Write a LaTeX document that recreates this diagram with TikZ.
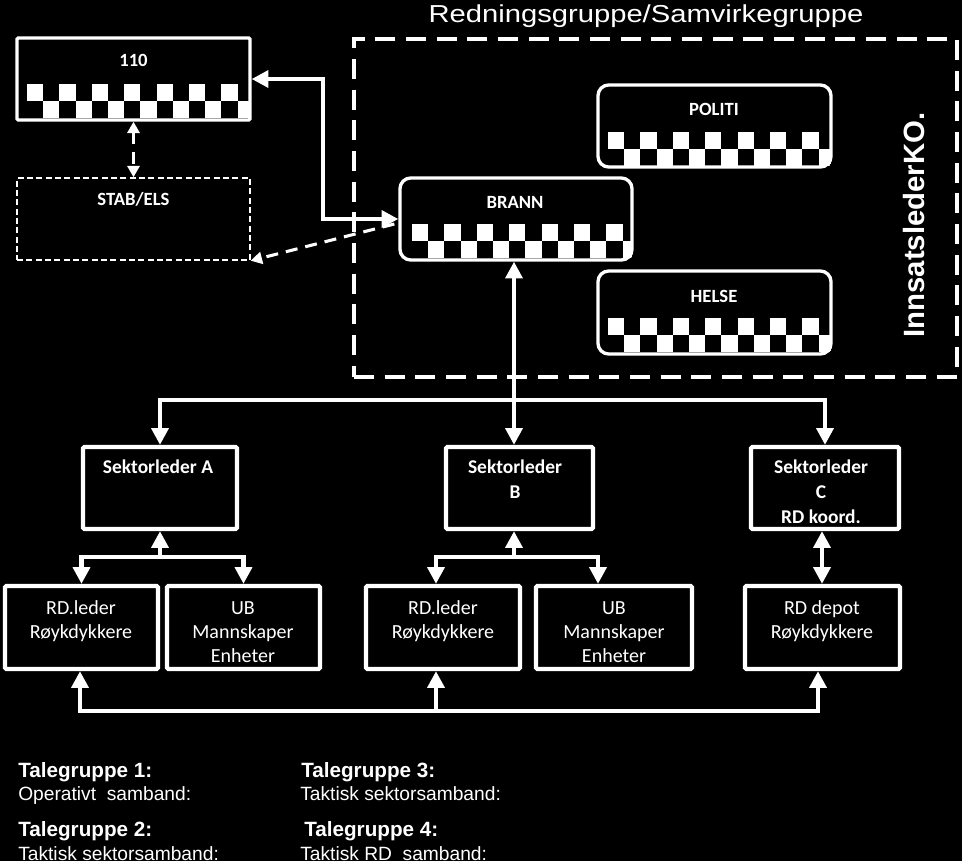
\documentclass[tikz,border=0pt]{standalone}
\usepackage{fontspec}
\usepackage{graphicx}
\setmainfont{Liberation Sans}
\newfontfamily\calib{Carlito}
\usetikzlibrary{arrows.meta,fit,calc}
\newcommand\mlines[1]{\begin{tabular}[t]{@{}c@{}}#1\end{tabular}}
\newcommand\chk[3]{%
  \foreach \k in {0,...,6}{%
    \fill[white] ({#1+2*\k*16.2},{#2}) rectangle ({#1+(2*\k+1)*16.2},{#2+17});
    \fill[white] ({#1+(2*\k+1)*16.2},{#2+17}) rectangle ({min(#1+(2*\k+2)*16.2,#3)},{#2+34});
  }}
\begin{document}
\begin{tikzpicture}[x=0.75pt,y=-0.75pt,
  sqbox/.style={draw=white, line width=2.5pt, inner sep=0pt, rounded corners=1pt},
  rbox/.style={draw=white, line width=2.5pt, inner sep=0pt, rounded corners=8pt},
  lbox/.style={draw=white, line width=3.2pt, inner sep=0pt, rounded corners=1pt},
  stabbox/.style={draw=white, line width=1.1pt, dash pattern=on 4.5pt off 2.5pt, inner sep=0pt},
  bigdash/.style={draw=white, line width=3.6pt, dash pattern=on 15pt off 8pt, inner sep=0pt},
  hdr/.style={text=white, inner sep=0pt, anchor=base, font=\calib\bfseries\fontsize{14}{16}\selectfont},
  sect/.style={text=white, inner sep=0pt, anchor=base, font=\calib\bfseries\fontsize{14.6}{18.75}\selectfont},
  unit/.style={text=white, inner sep=0pt, anchor=base, font=\calib\fontsize{15}{18}\selectfont},
  leg/.style={text=white, inner sep=0pt, anchor=base west, font=\fontsize{14.4}{17}\selectfont},
  legb/.style={text=white, inner sep=0pt, anchor=base west, font=\bfseries\fontsize{15.5}{18}\selectfont},
  conn/.style={draw=white, line width=3.4pt, >={Triangle[length=12.5pt,width=12.5pt]}},
  dconn/.style={draw=white, line width=2.3pt, dash pattern=on 9pt off 6pt, >={Triangle[length=8.5pt,width=9pt]}}
]
\fill[black] (0,0) rectangle (962,861);
\useasboundingbox (0,0) rectangle (962,861);

% title and group frame
\node[text=white, anchor=base, inner sep=0pt, font=\fontsize{18.4}{20}\selectfont] (title) at (646,22.7) {\scalebox{1.19}[1]{Redningsgruppe/Samvirkegruppe}};
\node[bigdash, fit={(354,39) (957,377)}] (ko) {};
\node[text=white, rotate=90, inner sep=0pt, font=\bfseries\fontsize{22}{24}\selectfont] (iko) at (914,225) {InnsatslederKO.};

% boxes
\node[sqbox, fit={(17,38) (250,120)}] (n110) {};
\node[stabbox, fit={(17,178) (250,260)}] (stab) {};
\node[rbox, fit={(400,178) (632,260)}] (brann) {};
\node[rbox, fit={(598,85) (831,167)}] (politi) {};
\node[rbox, fit={(598,271) (831,354)}] (helse) {};

\begin{scope}\clip (n110.south west) rectangle (n110.north east); \chk{27}{84}{250} \end{scope}
\begin{scope}\clip[rounded corners=8pt] (brann.south west) rectangle (brann.north east); \chk{412}{224}{632} \end{scope}
\begin{scope}\clip[rounded corners=8pt] (politi.south west) rectangle (politi.north east); \chk{608}{132}{831} \end{scope}
\begin{scope}\clip[rounded corners=8pt] (helse.south west) rectangle (helse.north east); \chk{608}{318}{831} \end{scope}

\node[hdr] (t110) at (133.5,66) {110};
\node[hdr] (tstab) at (133.5,205) {STAB/ELS};
\node[hdr] (tbrann) at (515,208) {BRANN};
\node[hdr] (tpol) at (714,115) {POLITI};
\node[hdr] (thel) at (714,302) {HELSE};

% sector leaders
\node[lbox, fit={(83,447) (237,529)}] (sA) {};
\node[lbox, fit={(446,447) (593,529)}] (sB) {};
\node[lbox, fit={(751,447) (899,529)}] (sC) {};
\node[sect] (tA) at (158,473) {Sektorleder A};
\node[sect] (tB) at (515,473) {\mlines{Sektorleder\\B}};
\node[sect] (tC) at (821,473) {\mlines{Sektorleder\\C\\RD koord.}};

% units
\node[lbox, fit={(5,586) (158,669)}] (rd1) {};
\node[lbox, fit={(167,586) (320,669)}] (ub1) {};
\node[lbox, fit={(366,586) (520,669)}] (rd2) {};
\node[lbox, fit={(536,586) (692,669)}] (ub2) {};
\node[lbox, fit={(745,586) (900,669)}] (dep) {};
\node[unit] (trd1) at (81,614) {\mlines{RD.leder\\Røykdykkere}};
\node[unit] (tub1) at (243,614) {\mlines{UB\\Mannskaper\\Enheter}};
\node[unit] (trd2) at (443,614) {\mlines{RD.leder\\Røykdykkere}};
\node[unit] (tub2) at (614,614) {\mlines{UB\\Mannskaper\\Enheter}};
\node[unit] (tdep) at (822,614) {\mlines{RD depot\\Røykdykkere}};

% connectors top
\coordinate (k) at (323,0);
\draw[conn,<->] (n110.east) -- (n110.east -| k) |- (brann.west);
\draw[dconn,<->] (n110.south) -- (stab.north);
\draw[dconn,->] ($(brann.west)+(-4,5)$) -- (stab.south east);

% bus to sector leaders
\coordinate (jB) at (514,400);
\draw[conn,<->] (brann.south -| jB) -- (sB.north -| jB);
\draw[conn,->] (jB) -| (sA);
\draw[conn,->] (jB) -| (sC);

% sector A
\coordinate (jA) at (160,557);
\draw[conn,->] (jA) -- (sA.south);
\draw[conn,->] (jA) -| (rd1);
\draw[conn,->] (jA) -| (ub1);

% sector B
\coordinate (jB2) at (514,557);
\coordinate (bl) at (436,557);
\coordinate (br) at (598,557);
\draw[conn,->] (jB2) -- (sB.south -| jB2);
\draw[conn,->] (jB2) -- (bl) -- (bl |- rd2.north);
\draw[conn,->] (jB2) -- (br) -- (br |- ub2.north);

% sector C
\coordinate (xc) at (822,0);
\draw[conn,<->] (sC.south -| xc) -- (dep.north -| xc);

% bottom bus
\coordinate (b1) at (80,711);
\coordinate (b2) at (436,711);
\coordinate (b3) at (818,711);
\draw[conn,->] (b2) -- (b1) -- (b1 |- rd1.south);
\draw[conn,->] (b2) -- (b3) -- (b3 |- dep.south);
\draw[conn,->] (b2) -- (b2 |- rd2.south);

% legend
\node[legb] (lg1) at (18,777) {Talegruppe 1:};
\node[leg] (ld1) at (18,800) {Operativt\ \ samband:};
\node[legb] (lg2) at (18,836) {Talegruppe 2:};
\node[leg] (ld2) at (18,860) {Taktisk sektorsamband:};
\node[legb] (lg3) at (301,777) {Talegruppe 3:};
\node[leg] (ld3) at (300,800) {Taktisk sektorsamband:};
\node[legb] (lg4) at (304,836) {Talegruppe 4:};
\node[leg] (ld4) at (300,860) {Taktisk RD\ \ samband:};
\end{tikzpicture}
\end{document}
